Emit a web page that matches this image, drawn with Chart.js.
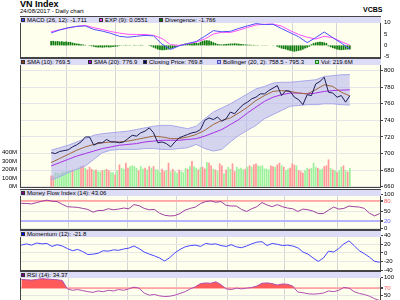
<!DOCTYPE html>
<html>
<head>
<meta charset="utf-8">
<script src="https://cdn.jsdelivr.net/npm/chart.js@4.4.0/dist/chart.umd.min.js"></script>
<style>
  body { margin: 0; width: 400px; height: 300px; overflow: hidden; background: #fff; position: relative;
         font-family: "Liberation Sans", Arial, sans-serif; color: #000; }
  canvas { position: absolute; left: 0; }
  .title { position: absolute; left: 20px; top: -1px; font-size: 9px; font-weight: bold; }
  .sub { position: absolute; left: 20px; top: 8px; font-size: 6px; }
  .brand { position: absolute; left: 363px; top: 6px; font-size: 7px; font-weight: bold; }
  .strip { position: absolute; left: 20px; width: 361px; height: 6px; background: #dcdcf6; z-index: 2; font-size: 6px; line-height: 6px; white-space: nowrap; }
  .strip span { position: absolute; top: 0; }
  .strip i { position: absolute; top: 1px; width: 4px; height: 4px; box-sizing: border-box; border: 1px solid #333; }
</style>
</head>
<body>
<div class="title">VN Index</div>
<div class="sub">24/08/2017 - Daily chart</div>
<div class="brand">VCBS</div>
<script>
// readings taken every 2 days (close, mfi, momentum, rsi) or every 4 days (averages, bands, macd)
const closeStep = 2
const avgStep = 4
const days = 141

const close = [701, 700, 702.5, 703.5, 704.5, 708, 710.5, 714, 720, 720,
  710, 713, 713, 717, 714, 714, 713, 714, 718, 722,
  721, 725, 727, 731, 725, 713, 714, 712, 708, 714,
  719, 721, 723, 725, 726, 729, 740, 743, 741, 744,
  739, 742, 750, 748, 754, 759, 762, 766, 768, 772,
  772, 776, 779, 782, 770, 776, 775, 768, 765, 759,
  771, 770, 784, 787, 792, 774, 773, 768, 770, 762,
  769.8]
const sma10 = [689, 694, 699, 704, 708, 711, 713, 714, 714, 715,
  717, 719, 721, 720, 718, 718, 720, 723, 728, 735,
  740, 743, 749, 756, 764, 770, 775, 776, 775, 773,
  772, 777, 783, 781, 774, 769.5]
const sma20 = [685, 689, 693, 697, 700, 703, 706, 708, 710, 711,
  712, 714, 715, 716, 716, 716, 717, 718, 721, 725,
  729, 735, 741, 749, 756, 763, 768, 771, 773, 773,
  772, 773, 775, 776, 776.5, 776.9]
const bbUpper = [704, 707, 710, 714, 718, 722, 724, 725, 726, 727,
  729, 731, 733, 734, 734, 732, 730, 733, 742, 750,
  755, 760, 766, 772, 778, 781, 785, 786, 786, 787,
  788, 789, 793, 794, 795, 795.3]
const bbLower = [668, 672, 677, 681, 685, 693, 701, 704, 705, 705,
  705, 706, 706, 705, 705, 706, 707, 711, 706, 703,
  705, 714, 722, 728, 734, 742, 747, 752, 757, 758,
  759, 759, 760, 760, 759, 758.5]

// volume in millions, one bar per day; r = down day, g = up day
const volume = [131, 131, 170, 163, 155, 170, 178, 178, 186, 194,
  202, 194, 210, 222, 242, 250, 222, 202, 234, 210,
  194, 202, 182, 178, 194, 202, 210, 194, 170, 170,
  143, 194, 262, 222, 210, 282, 222, 242, 250, 242,
  222, 194, 242, 210, 222, 202, 242,
  222, 242, 202, 202, 170, 210, 182, 194, 282, 182,
  210, 182, 163, 202, 182, 170, 222, 210, 242, 302,
  242, 222, 202, 230,
  234, 214, 290, 282, 250, 210, 202, 182, 274, 250,
  155, 202, 234, 210, 274, 182, 234, 210, 222, 202,
  210, 234, 250,
  234, 262, 274, 250, 242, 250, 214, 214, 202, 250,
  242, 234, 262, 282, 250, 234, 194, 210, 222, 274,
  258, 250, 194, 182, 163, 194, 222, 210, 222, 282,
  234, 222, 202, 210, 242, 250, 321, 222, 202, 194,
  170, 194, 234, 250, 194, 178, 219.6]
const volMove = 'rrggggggggrgggrrgrrrgrggrgrrggrgrggrrggggrggrgr' +
  'grgggrrgrgrggrgggrgrggrg' +
  'rrgrrgrgrrgrggrrggggrgr' +
  'grrggggggrrgrrgrggrrrgrrrggrgggrggrrrgrgrggrgrg'

const macd = [5.5, 6.8, 7.8, 8.4, 8.6, 7.0, 6.3, 5.3, 4.0, 3.6,
  4.0, 4.4, 4.2, 0.5, -1.8, -0.2, 0.8, 1.7, 4.0, 6.5,
  6.0, 6.2, 7.5, 8.6, 9.6, 9.2, 9.3, 7.4, 5.6, 3.8,
  1.2, 3.4, 5.9, 3.4, 1.0, -1.711]
const signal = [6.0, 6.9, 7.6, 8.4, 8.8, 7.8, 7.0, 6.1, 5.4, 4.9,
  4.8, 4.8, 4.4, 3.0, 0.3, 0.0, 0.7, 1.5, 2.8, 5.0,
  5.8, 5.7, 6.7, 7.9, 9.0, 9.3, 9.4, 8.5, 6.5, 4.8,
  3.6, 2.8, 4.0, 3.4, 1.6, 0.0551]
const divergence = [1.9, 2.0, 1.8, 1.9, 1.7, 1.8, 1.6, 1.7, 1.5, 1.5,
  1.2, 1.0, 0.8, 0.7, 0.5, 0.4,
  0.2, 0.0, -0.2,
  -0.4, -0.6, -0.8, -0.9, -0.9, -1.0, -0.9, -0.8, -0.9, -0.8, -0.7, -0.6, -0.5,
  -0.2, 0.1, -0.1, 0.2, -0.2, 0.1, 0.0, 0.2, -0.1, 0.1, 0.2, 0.1, -0.1, 0.0, -0.2,
  -0.5, -1.0, -1.4, -1.8, -2.0, -2.2, -2.1, -2.0, -1.8, -1.5, -1.2, -0.9,
  -0.6, -0.2, 0.3, 0.6, 0.8, 0.9, 1.0, 0.9, 1.0, 1.1, 1.0,
  1.6, 2.0, 2.2, 2.3, 2.1, 1.8, 1.4, 1.0,
  0.6, 0.5, 0.4, 0.5, 0.6, 0.7, 0.8, 0.8, 0.9, 0.8, 0.7, 0.6, 0.5, 0.4, 0.3, 0.3, 0.2, 0.2,
  0.1, 0.1, 0.0, 0.1, -0.1, 0.1, 0.0, -0.1, 0.1, 0.0,
  -0.6, -1.0, -1.4, -1.6, -1.8, -2.2, -2.4, -2.6, -2.8, -2.6, -2.4, -2.2, -1.8, -1.4, -1.0, -0.6,
  0.5, 1.0, 1.3, 1.5, 1.6, 1.5, 1.3, 1.0,
  -0.4, -0.8, -1.2, -1.5, -1.8, -2.0, -2.1, -2.0, -1.9, -1.8, -1.766]

const mfi = [72.6, 72.6, 71, 75, 79, 82, 79, 78, 70, 63,
  62, 61, 58, 55, 47, 52, 52, 57, 54, 56,
  59, 57, 69, 66, 58, 54, 55, 44, 38, 36,
  37, 43, 53, 58, 62, 72, 78, 80, 76, 78,
  67, 65, 65, 55, 49, 57, 63, 75, 68, 63,
  69, 63, 59, 57, 49, 56, 54, 50, 43, 43,
  53, 62, 56, 58, 65, 63, 62, 58, 44, 36,
  43.06]
const momentum = [18, 21, 18, 23, 21, 22, 15, 19, 16, 10,
  5, 8, 3, -4, -3, -1, 5, 4, 7, 6,
  9, 11, 16, 10, 2, -3, -7, -12, -19, -11,
  0, 8, 14, 17, 18, 15, 22, 20, 21, 17,
  15, 19, 14, 12, 16, 21, 25, 26, 17, 22,
  20, 17, 18, 16, 12, 2, -3, -12, -20, -12,
  4, 2, 10, 21, 28, 17, 5, -2, -10, -20,
  -21.8]
const rsi = [95, 94, 93, 95, 97, 96, 95, 94, 92, 68,
  64, 66, 63, 60, 58, 62, 60, 64, 62, 66,
  64, 68, 73, 70, 56, 50, 52, 48, 46, 47,
  50, 55, 60, 68, 74, 83, 85, 84, 88, 80,
  68, 66, 70, 68, 70, 72, 76, 84, 85, 83,
  79, 82, 81, 76, 59, 57, 54, 53, 54, 56,
  62, 60, 64, 72, 70, 60, 55, 52, 47, 40,
  34.37]

// month boundaries (trading-day index) for vertical grid lines
const monthStarts = [18.5, 41.5, 60.5, 80.5, 103, 123.5]
const macdTicks = [-5, 0, 5, 10]
const priceTicks = [660, 680, 700, 720, 740, 760, 780, 800]
const volTicks = [0, 100, 200, 300, 400]
const mfiTicks = [0, 20, 50, 80, 100]
const momTicks = [-40, -20, 0, 20, 40]
const rsiTicks = [0, 30, 50, 70, 100]

const pts = (arr, step) => arr.map((v, i) => ({ x: i * step, y: v }))
const PAD = 6

const frame = {
  id: 'frame',
  beforeDraw(chart) {
    const a = chart.chartArea, c = chart.ctx
    c.save()
    c.fillStyle = '#ffffee'
    c.fillRect(a.left, a.top, a.right - a.left, a.bottom - a.top)
    c.restore()
  },
  afterDraw(chart) {
    const a = chart.chartArea, c = chart.ctx
    c.save()
    c.strokeStyle = '#444'
    c.lineWidth = 1
    c.strokeRect(a.left + 0.5, a.top + 0.5, a.right - a.left - 1, a.bottom - a.top - 1)
    c.restore()
  }
}

const xAxis = () => ({
  type: 'linear', min: -0.5, max: days - 0.5,
  afterBuildTicks: ax => { ax.ticks = monthStarts.map(v => ({ value: v })) },
  afterFit: ax => { ax.height = 0; ax.paddingLeft = 0; ax.paddingRight = 0 },
  ticks: { display: false },
  grid: { color: '#d6d6d6', drawTicks: false },
  border: { display: false }
})

// oscillator levels (overbought / oversold) get coloured grid lines and labels
const levelGrid = (hi, lo) => ({
  color: ctx => ctx.tick.value === hi ? '#ffb4b4' : ctx.tick.value === lo ? '#b4b4ff' : '#e6e6e6',
  width: ctx => (ctx.tick.value === hi || ctx.tick.value === lo) ? 2 : 1,
  label: ctx => ctx.tick.value === hi ? '#ff6060' : ctx.tick.value === lo ? '#6060ff' : '#000'
})

const yAxis = (pos, min, max, ticks, opts = {}) => ({
  position: pos, min, max,
  afterBuildTicks: ax => { ax.ticks = ticks.map(v => ({ value: v })) },
  afterFit: ax => { ax.width = opts.width || 19; ax.paddingTop = 0; ax.paddingBottom = 0 },
  grid: {
    display: opts.grid !== false,
    color: opts.level ? opts.level.color : '#e6e6e6',
    lineWidth: opts.level ? opts.level.width : 1,
    tickColor: '#444', tickLength: 2
  },
  border: { display: false },
  ticks: {
    autoSkip: false, padding: 1,
    font: { family: 'Liberation Sans', size: 6 },
    color: opts.level ? opts.level.label : '#000',
    callback: opts.fmt || (v => v)
  }
})

function panel(top, height, scales, datasets, leftPad) {
  const cv = document.createElement('canvas')
  cv.width = 400
  cv.height = height + 2 * PAD
  cv.style.top = (top - PAD) + 'px'
  document.body.appendChild(cv)
  new Chart(cv, {
    type: 'line',
    data: { datasets },
    options: {
      responsive: false, animation: false, devicePixelRatio: 1,
      layout: { padding: { top: PAD, bottom: PAD, left: leftPad, right: 0 } },
      plugins: { legend: { display: false }, tooltip: { enabled: false } },
      elements: { point: { radius: 0 }, line: { borderWidth: 1, tension: 0 } },
      scales
    },
    plugins: [frame]
  })
}

function strip(top, items) {
  const d = document.createElement('div')
  d.className = 'strip'
  d.style.top = top + 'px'
  items.forEach(([x, col, text, bd]) => {
    const sq = document.createElement('i')
    sq.style.left = x + 'px'
    sq.style.background = col
    if (bd) sq.style.borderColor = bd
    const t = document.createElement('span')
    t.style.left = (x + 6) + 'px'
    t.textContent = text
    d.appendChild(sq)
    d.appendChild(t)
  })
  document.body.appendChild(d)
}

// MACD
panel(16, 42, {
  x: xAxis(),
  y: yAxis('right', -5.57, 12.96, macdTicks, { grid: false })
}, [
  { type: 'line', data: pts(macd, avgStep), borderColor: '#5050ff', order: 1 },
  { type: 'line', data: pts(signal, avgStep), borderColor: '#ff50ff', order: 2 },
  { type: 'bar', data: pts(divergence, 1), backgroundColor: '#0b7a0b', barPercentage: 0.8, categoryPercentage: 1, order: 3 }
], 20)

// price + volume
panel(58, 130, {
  x: xAxis(),
  y: yAxis('right', 658.4, 815.3, priceTicks),
  vol: yAxis('left', -15.3, 1514, volTicks, { width: 20, grid: false, fmt: v => v + 'M' })
}, [
  { type: 'line', data: pts(close, closeStep), borderColor: '#1c1c58', order: 1 },
  { type: 'line', data: pts(sma10, avgStep), borderColor: '#a0683c', order: 2 },
  { type: 'line', data: pts(sma20, avgStep), borderColor: '#a832e6', order: 3 },
  { type: 'line', data: pts(bbLower, avgStep), borderColor: '#a8a8ea', order: 4 },
  { type: 'line', data: pts(bbUpper, avgStep), borderColor: '#a8a8ea', backgroundColor: 'rgba(176,176,238,0.55)', fill: '-1', order: 5 },
  { type: 'bar', yAxisID: 'vol', data: pts(volume, 1), order: 6,
    backgroundColor: volume.map((v, i) => volMove[i] === 'r' ? '#ff9a9a' : '#9cf29c'),
    barPercentage: 0.8, categoryPercentage: 1 }
], 0)

// money flow index
panel(189, 41, {
  x: xAxis(),
  y: yAxis('right', -5, 114.6, mfiTicks, { level: levelGrid(80, 20) })
}, [
  { data: pts(mfi, closeStep), borderColor: '#a040a0',
    fill: { target: { value: 80 }, above: '#ff5a5a', below: 'rgba(0,0,0,0)' } }
], 20)

// momentum
panel(230, 41, {
  x: xAxis(),
  y: yAxis('right', -42.3, 53.3, momTicks)
}, [
  { data: pts(momentum, closeStep), borderColor: '#4848ff' }
], 20)

// RSI
panel(271, 42, {
  x: xAxis(),
  y: yAxis('right', -0.9, 119, rsiTicks, { level: levelGrid(70, 30) })
}, [
  { data: pts(rsi, closeStep), borderColor: '#b050b0',
    fill: { target: { value: 70 }, above: '#ff5a5a', below: 'rgba(0,0,0,0)' } }
], 20)

strip(17, [[1, '#4040ff', 'MACD (26, 12): -1.711'], [79, '#ff40ff', 'EXP (9): 0.0551'], [139, '#007000', 'Divergence: -1.766']])
strip(59, [[1, '#8b4513', 'SMA (10): 769.5'], [68, '#9400d3', 'SMA (20): 776.9'], [123, '#000060', 'Closing Price: 769.8'],
  [197, '#b8b8f0', 'Bollinger (20, 2): 758.5 - 795.3', '#5050c0'], [295, '#9cf29c', 'Vol: 219.6M', '#208020']])
strip(190, [[1, '#800080', 'Money Flow Index (14): 43.06']])
strip(231, [[1, '#0000ff', 'Momentum (12): -21.8']])
strip(272, [[1, '#800080', 'RSI (14): 34.37']])
</script>
</body>
</html>
